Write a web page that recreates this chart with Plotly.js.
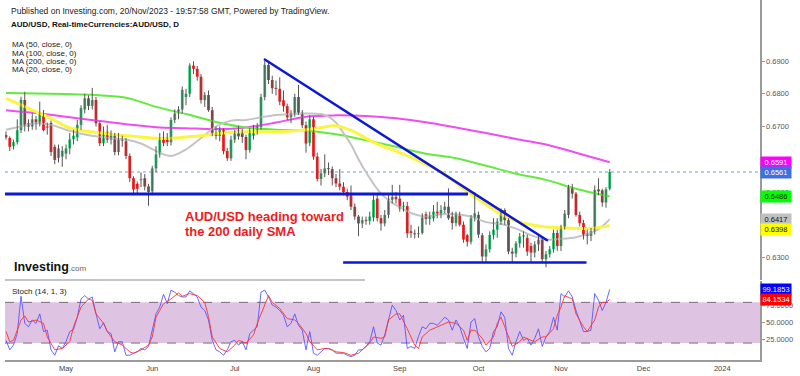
<!DOCTYPE html>
<html><head><meta charset="utf-8">
<script src="https://cdn.plot.ly/plotly-3.0.1.min.js"></script>
<style>html,body{margin:0;padding:0;background:#fff;}#chart{width:800px;height:376px;}</style>
</head><body><div id="chart"></div>
<script>
// ---------------- DATA ----------------
// bar index 0 = Mon 3 Apr 2023 (weekday bars); first drawn bar is index 4 (7 Apr)
const firstBar = 4;
const monthTickIdx = [20, 43, 65, 86, 109, 130, 152, 174, 195];
const monthTickText = ['May', 'Jun', 'Jul', 'Aug', 'Sep', 'Oct', 'Nov', 'Dec', '2024'];
const priceTickVals = [0.63, 0.64, 0.65, 0.66, 0.67, 0.68, 0.69];
const priceTickText = ['0.6300', '', '0.6500', '0.6600', '0.6700', '0.6800', '0.6900'];
const stochTickVals = [25, 50, 75];
const stochTickText = ['25.0000', '50.0000', '75.0000'];

const open = [
0.6674,0.6665,0.6640,0.6652,0.6689,0.6781,0.6710,0.6700,0.6722,0.6712,
0.6741,0.6699,0.6711,0.6638,0.6604,0.6608,0.6617,0.6633,0.6661,0.6667,
0.6705,0.6752,0.6786,0.6763,0.6781,0.6710,0.6649,0.6684,0.6660,0.6672,
0.6622,0.6660,0.6655,0.6610,0.6542,0.6525,0.6536,0.6542,0.6517,0.6502,
0.6572,0.6615,0.6668,0.6668,0.6652,0.6720,0.6740,0.6752,0.6790,0.6800,
0.6886,0.6876,0.6852,0.6781,0.6796,0.6750,0.6679,0.6671,0.6689,0.6625,
0.6603,0.6660,0.6688,0.6680,0.6668,0.6628,0.6672,0.6688,0.6698,0.6790,
0.6888,0.6842,0.6817,0.6815,0.6780,0.6762,0.6728,0.6740,0.6790,0.6742,
0.6704,0.6650,0.6722,0.6608,0.6540,0.6557,0.6572,0.6570,0.6542,0.6526,
0.6516,0.6500,0.6490,0.6455,0.6425,0.6404,0.6414,0.6412,0.6422,0.6480,
0.6420,0.6404,0.6430,0.6476,0.6485,0.6480,0.6455,0.6457,0.6380,0.6372,
0.6371,0.6375,0.6432,0.6418,0.6420,0.6440,0.6435,0.6445,0.6455,0.6425,
0.6405,0.6428,0.6400,0.6368,0.6348,0.6420,0.6430,0.6368,0.6303,0.6325,
0.6369,0.6385,0.6410,0.6445,0.6414,0.6318,0.6312,0.6343,0.6364,0.6360,
0.6335,0.6315,0.6340,0.6355,0.6295,0.6310,0.6325,0.6375,0.6335,0.6392,
0.6430,0.6515,0.6495,0.6430,0.6405,0.6372,0.6366,0.6380,0.6508,0.6505,
0.6468,0.6510];
const high = [
0.6685,0.6670,0.6660,0.6722,0.6791,0.6806,0.6722,0.6740,0.6732,0.6776,
0.6750,0.6712,0.6718,0.6645,0.6645,0.6640,0.6645,0.6680,0.6690,0.6720,
0.6765,0.6800,0.6795,0.6818,0.6790,0.6715,0.6700,0.6705,0.6688,0.6680,
0.6680,0.6672,0.6665,0.6618,0.6548,0.6532,0.6560,0.6555,0.6525,0.6580,
0.6640,0.6680,0.6685,0.6680,0.6728,0.6752,0.6762,0.6822,0.6815,0.6893,
0.6899,0.6885,0.6860,0.6805,0.6810,0.6760,0.6700,0.6700,0.6695,0.6635,
0.6672,0.6690,0.6702,0.6692,0.6675,0.6695,0.6705,0.6710,0.6800,0.6900,
0.6895,0.6855,0.6840,0.6850,0.6810,0.6770,0.6750,0.6800,0.6827,0.6750,
0.6715,0.6735,0.6730,0.6620,0.6570,0.6615,0.6590,0.6578,0.6555,0.6570,
0.6530,0.6510,0.6520,0.6465,0.6430,0.6425,0.6425,0.6440,0.6490,0.6495,
0.6430,0.6445,0.6490,0.6522,0.6500,0.6522,0.6470,0.6470,0.6400,0.6385,
0.6395,0.6435,0.6440,0.6440,0.6460,0.6470,0.6460,0.6470,0.6511,0.6440,
0.6440,0.6440,0.6410,0.6372,0.6430,0.6500,0.6440,0.6375,0.6340,0.6380,
0.6420,0.6420,0.6450,0.6450,0.6420,0.6330,0.6350,0.6375,0.6380,0.6370,
0.6345,0.6350,0.6370,0.6365,0.6320,0.6335,0.6385,0.6385,0.6400,0.6445,
0.6522,0.6525,0.6500,0.6440,0.6415,0.6385,0.6390,0.6520,0.6542,0.6510,
0.6515,0.6570];
const low = [
0.6660,0.6625,0.6630,0.6645,0.6680,0.6685,0.6685,0.6690,0.6690,0.6700,
0.6685,0.6675,0.6610,0.6585,0.6590,0.6577,0.6600,0.6615,0.6645,0.6655,
0.6690,0.6740,0.6750,0.6752,0.6700,0.6640,0.6640,0.6650,0.6645,0.6612,
0.6612,0.6638,0.6600,0.6530,0.6490,0.6492,0.6515,0.6505,0.6458,0.6490,
0.6560,0.6605,0.6640,0.6640,0.6642,0.6710,0.6722,0.6740,0.6765,0.6790,
0.6860,0.6840,0.6770,0.6760,0.6745,0.6670,0.6660,0.6655,0.6615,0.6595,
0.6595,0.6650,0.6660,0.6650,0.6600,0.6620,0.6660,0.6675,0.6690,0.6780,
0.6830,0.6800,0.6795,0.6765,0.6745,0.6720,0.6710,0.6730,0.6735,0.6695,
0.6620,0.6640,0.6598,0.6532,0.6520,0.6545,0.6552,0.6520,0.6515,0.6505,
0.6490,0.6475,0.6445,0.6415,0.6365,0.6390,0.6400,0.6400,0.6410,0.6410,
0.6382,0.6395,0.6420,0.6465,0.6465,0.6440,0.6440,0.6360,0.6360,0.6358,
0.6360,0.6370,0.6400,0.6400,0.6410,0.6420,0.6420,0.6435,0.6415,0.6385,
0.6395,0.6395,0.6345,0.6333,0.6340,0.6410,0.6360,0.6287,0.6285,0.6315,
0.6355,0.6360,0.6400,0.6400,0.6310,0.6285,0.6300,0.6330,0.6330,0.6305,
0.6285,0.6300,0.6320,0.6285,0.6270,0.6300,0.6315,0.6320,0.6320,0.6385,
0.6420,0.6480,0.6425,0.6395,0.6355,0.6340,0.6350,0.6370,0.6490,0.6455,
0.6452,0.6505];
const close = [
0.6667,0.6638,0.6652,0.6689,0.6781,0.6702,0.6700,0.6722,0.6714,0.6741,
0.6689,0.6697,0.6622,0.6598,0.6633,0.6626,0.6633,0.6661,0.6672,0.6705,
0.6756,0.6786,0.6763,0.6781,0.6710,0.6649,0.6684,0.6660,0.6672,0.6622,
0.6662,0.6657,0.6610,0.6542,0.6508,0.6510,0.6537,0.6517,0.6500,0.6572,
0.6615,0.6665,0.6650,0.6652,0.6720,0.6740,0.6752,0.6812,0.6800,0.6886,
0.6876,0.6852,0.6781,0.6796,0.6750,0.6679,0.6671,0.6689,0.6625,0.6603,
0.6660,0.6685,0.6670,0.6668,0.6628,0.6684,0.6690,0.6700,0.6790,0.6888,
0.6842,0.6817,0.6815,0.6776,0.6762,0.6728,0.6740,0.6790,0.6742,0.6704,
0.6648,0.6722,0.6608,0.6540,0.6557,0.6572,0.6570,0.6542,0.6526,0.6516,
0.6500,0.6486,0.6455,0.6425,0.6404,0.6414,0.6412,0.6425,0.6476,0.6420,
0.6404,0.6430,0.6480,0.6485,0.6478,0.6450,0.6457,0.6374,0.6375,0.6371,
0.6373,0.6422,0.6418,0.6425,0.6440,0.6435,0.6445,0.6455,0.6420,0.6405,
0.6430,0.6400,0.6355,0.6348,0.6420,0.6435,0.6370,0.6303,0.6325,0.6369,
0.6385,0.6410,0.6445,0.6414,0.6318,0.6312,0.6343,0.6364,0.6368,0.6318,
0.6315,0.6340,0.6355,0.6295,0.6310,0.6325,0.6375,0.6335,0.6392,0.6434,
0.6516,0.6495,0.6430,0.6405,0.6368,0.6366,0.6380,0.6506,0.6502,0.6468,
0.6508,0.6561];

// moving averages (bar index, value)
const ma20X = [4,8,12,16,20,24,28,32,36,40,44,48,52,56,60,64,68,72,76,80,84,88,90,92,94,96,98,100,102,104,106,108,110,112,116,120,124,128,132,136,140,144,148,152,156,160,163,165];
const ma20Y = [0.6690,0.6700,0.6710,0.6705,0.6690,0.6678,0.6670,0.6664,0.6660,0.6648,0.6625,0.6610,0.6630,0.6665,0.6700,0.6718,0.6720,0.6728,0.6735,0.6738,0.6740,0.6738,0.6730,0.6712,0.6680,0.6645,0.6600,0.6560,0.6525,0.6495,0.6475,0.6460,0.6448,0.6436,0.6425,0.6432,0.6432,0.6425,0.6408,0.6402,0.6388,0.6368,0.6355,0.6357,0.6362,0.6375,0.6395,0.6417];
const ma50X = [4,8,12,16,20,24,28,32,36,40,44,48,52,56,60,64,68,72,76,80,84,88,92,96,100,104,108,112,116,120,124,128,132,136,140,144,148,152,156,160,164,165];
const ma50Y = [0.6786,0.6766,0.6745,0.6725,0.6700,0.6688,0.6682,0.6676,0.6672,0.6668,0.6664,0.6664,0.6668,0.6672,0.6678,0.6682,0.6684,0.6684,0.6684,0.6686,0.6690,0.6697,0.6702,0.6688,0.6664,0.6642,0.6625,0.6606,0.6584,0.6562,0.6528,0.6493,0.6462,0.6432,0.6412,0.6400,0.6393,0.6391,0.6389,0.6389,0.6395,0.6398];
const ma100X = [4,12,20,28,36,44,52,60,68,76,84,92,100,108,116,124,132,140,148,156,165];
const ma100Y = [0.6802,0.6801,0.6799,0.6796,0.6788,0.6760,0.6738,0.6714,0.6697,0.6690,0.6688,0.6676,0.6658,0.6638,0.6617,0.6603,0.6580,0.6556,0.6537,0.6510,0.6486];
const ma200X = [4,12,20,28,36,44,52,60,68,76,84,92,100,108,116,124,132,140,148,156,165];
const ma200Y = [0.6750,0.6741,0.6730,0.6718,0.6707,0.6698,0.6695,0.6692,0.6697,0.6712,0.6730,0.6734,0.6732,0.6725,0.6713,0.6697,0.6680,0.6662,0.6645,0.6620,0.6591];

// drawn lines (bar index, price)
const trendX = [72.8, 148.5], trendY = [0.6906, 0.6351];
const supportX = [3.7, 127.2], supportY = [0.6494, 0.6494];
const floorX = [93.9, 158.8], floorY = [0.6285, 0.6285];

// Stochastic (14,1,3): %K for every bar, %D read at sampled bars
const stochK = [
24,10,17,34,89,49,44,54,49,63,
37,39,10,2,16,12,22,37,40,58,
85,90,85,88,63,41,50,37,34,7,
22,22,2,2,5,7,12,10,15,39,
63,73,92,78,98,95,90,88,88,97,
93,88,73,68,54,24,10,7,2,10,
22,24,17,22,10,34,39,44,95,98,
88,76,73,68,61,44,49,63,46,39,
10,37,5,2,7,12,12,10,5,5,
5,2,0,2,10,10,15,22,44,20,
17,32,54,76,68,54,61,12,15,12,
30,44,41,49,49,46,52,58,54,39,
54,44,27,12,51,56,29,15,7,12,
37,44,66,58,12,2,22,37,24,27,
17,27,41,15,29,37,58,39,93,88,
97,88,68,51,37,37,39,93,83,68,
80,99.1853];
const stochDX = [4,5,6,8,9,10,12,14,15,17,19,21,22,24,26,27,28,30,31,33,35,37,38,40,42,43,44,46,48,50,51,53,55,57,58,59,61,63,65,66,68,70,71,73,74,75,77,79,81,82,84,85,87,89,90,92,94,96,98,99,101,102,104,105,106,108,109,111,113,114,115,117,119,121,122,124,126,127,128,129,131,132,134,135,136,137,139,141,142,144,145,147,148,150,151,152,153,155,156,158,159,161,162,163,164,165];
const stochD = [37,22,24,54,60,51,54,49,29,10,12,22,44,73,85,83,63,49,37,22,17,7,5,10,17,29,58,78,85,94,89,93,90,80,59,29,12,7,17,24,20,32,49,78,90,80,71,56,54,49,34,22,10,12,12,7,6,2,5,10,20,29,27,29,54,63,63,41,17,12,29,39,44,49,51,49,39,24,39,39,27,17,29,49,58,44,15,22,29,24,22,29,29,41,61,73,90,85,63,44,37,54,73,80,80,84.1534];

// ---------------- BUILD ----------------
const FONT = 'Liberation Sans, Arial, sans-serif';
const GREEN = '#1fc26a', RED = '#f51b1b', WICK = '#555555', BLUE = '#0c17d8';
const barX = open.map((_, k) => firstBar + k);

const wickX = [], wickY = [];
barX.forEach((x, k) => { wickX.push(x, x, null); wickY.push(low[k], high[k], null); });
const bodyBase = open.map((o, k) => Math.min(o, close[k]));
const bodyH = open.map((o, k) => Math.max(Math.abs(close[k] - o), 0.0003));
const bodyCol = open.map((o, k) => close[k] > o ? GREEN : (close[k] < o ? RED : '#222'));

const last = a => a[a.length - 1];

const traces = [
  {x: ma200X, y: ma200Y, type: 'scatter', mode: 'lines', line: {color: '#ee4df0', width: 2, shape: 'spline', smoothing: 1}, yaxis: 'y'},
  {x: ma100X, y: ma100Y, type: 'scatter', mode: 'lines', line: {color: '#63ea3f', width: 2, shape: 'spline', smoothing: 1}, yaxis: 'y'},
  {x: ma20X, y: ma20Y, type: 'scatter', mode: 'lines', line: {color: '#c4c4c4', width: 2, shape: 'spline', smoothing: 1}, yaxis: 'y'},
  {x: ma50X, y: ma50Y, type: 'scatter', mode: 'lines', line: {color: '#fbf542', width: 3, shape: 'spline', smoothing: 1}, yaxis: 'y'},
  {x: wickX, y: wickY, type: 'scatter', mode: 'lines', line: {color: WICK, width: 1}, yaxis: 'y'},
  {x: barX, y: bodyH, base: bodyBase, type: 'bar', width: 0.74, marker: {color: bodyCol, line: {width: 0}}, yaxis: 'y'},
  {x: trendX, y: trendY, type: 'scatter', mode: 'lines', line: {color: BLUE, width: 2.5}, yaxis: 'y'},
  {x: supportX, y: supportY, type: 'scatter', mode: 'lines', line: {color: BLUE, width: 3}, yaxis: 'y'},
  {x: floorX, y: floorY, type: 'scatter', mode: 'lines', line: {color: BLUE, width: 2.5}, yaxis: 'y'},
  {x: barX, y: stochK, type: 'scatter', mode: 'lines', line: {color: 'rgba(80,80,255,0.85)', width: 1}, yaxis: 'y2'},
  {x: stochDX, y: stochD, type: 'scatter', mode: 'lines', line: {color: 'rgba(255,50,50,0.9)', width: 1}, yaxis: 'y2'}
];

// pixel helpers for layout placement (plot area: x 5..760, y 0..360)
const PX = x => (x - 5) / 755, PY = y => (360 - y) / 360;

function txt(x, y, text, size, color, extra) {
  return Object.assign({xref: 'paper', yref: 'paper', x: PX(x), y: PY(y), xanchor: 'left', yanchor: 'middle',
    text: text, showarrow: false, font: {family: FONT, size: size, color: color}}, extra || {});
}
function tag(val, axis, bg, fg, digits, yshift) {
  return {xref: 'paper', yref: axis, x: 1, y: val, xanchor: 'left', yanchor: 'middle', xshift: 0, yshift: yshift || 0,
    text: val.toFixed(digits), showarrow: false, bgcolor: bg, borderpad: 1, width: 28,
    font: {family: FONT, size: 7.5, color: fg}};
}

const annotations = [
  txt(9, 11, 'Published on Investing.com, 20/Nov/2023 - 19:57:58 GMT, Powered by TradingView.', 8.5, '#222'),
  txt(9, 25, '<b>AUD/USD, Real-timeCurrencies:AUD/USD, D</b>', 8, '#111'),
  txt(10, 44.5, 'MA (50, close, 0)', 8, '#222'),
  txt(10, 53, 'MA (100, close, 0)', 8, '#222'),
  txt(10, 61.5, 'MA (200, close, 0)', 8, '#222'),
  txt(10, 70, 'MA (20, close, 0)', 8, '#222'),
  txt(12, 267, '<b>Investing</b><span style="font-size:8px;color:#666">.com</span>', 12.5, '#111'),
  txt(10, 291, 'Stoch (14, 1, 3)', 8, '#222'),
  txt(183, 216.5, '<b>AUD/USD heading toward</b>', 13, '#ee1c1c'),
  txt(183, 232, '<b>the 200 daily SMA</b>', 13, '#ee1c1c'),
  tag(last(ma200Y), 'y', '#ff00ff', '#ffffff', 4),
  tag(last(close), 'y', '#3e6fe0', '#ffffff', 4),
  tag(last(ma100Y), 'y', '#00ff00', '#222222', 4),
  tag(last(ma20Y), 'y', '#c0c0c0', '#111111', 4),
  tag(last(ma50Y), 'y', '#ffff00', '#111111', 4, -4),
  tag(last(stochK), 'y2', '#0000ff', '#ffffff', 4),
  tag(last(stochD), 'y2', '#ff0000', '#ffffff', 4)
];

const shapes = [
  {type: 'rect', xref: 'paper', yref: 'y2', x0: 0, x1: 1, y0: 20, y1: 80, fillcolor: '#dfc3e3', line: {width: 0}, layer: 'below'},
  {type: 'line', xref: 'paper', yref: 'y2', x0: 0, x1: 1, y0: 80, y1: 80, line: {color: '#7a6a7e', width: 1, dash: 'dash'}, layer: 'below'},
  {type: 'line', xref: 'paper', yref: 'y2', x0: 0, x1: 1, y0: 20, y1: 20, line: {color: '#7a6a7e', width: 1, dash: 'dash'}, layer: 'below'},
  {type: 'line', xref: 'paper', yref: 'paper', x0: 0, x1: PX(365), y0: PY(280), y1: PY(280), line: {color: '#b0b0b0', width: 1.5}},
  {type: 'line', xref: 'paper', yref: 'y', x0: 0, x1: 1, y0: last(close), y1: last(close), line: {color: '#a4b8ea', width: 1.5, dash: 'dot'}, layer: 'below'}
];

const axisCommon = {side: 'right', anchor: 'x', showline: true, linecolor: '#9a9a9a', linewidth: 1.5, ticks: 'outside', ticklen: 3,
  tickcolor: '#9a9a9a', showgrid: false, zeroline: false, tickfont: {family: FONT, size: 7.5, color: '#555'}, fixedrange: true};

const layout = {
  width: 800, height: 376,
  margin: {l: 5, r: 40, t: 0, b: 16},
  paper_bgcolor: '#ffffff', plot_bgcolor: '#ffffff',
  showlegend: false, barmode: 'overlay', hovermode: false,
  font: {family: FONT},
  xaxis: {range: [3.733, 205.07], anchor: 'y2', tickmode: 'array', tickvals: monthTickIdx, ticktext: monthTickText,
    showline: true, linecolor: '#9a9a9a', linewidth: 1.5, ticks: '', showgrid: false, zeroline: false,
    tickfont: {family: FONT, size: 7.5, color: '#444'}, fixedrange: true},
  yaxis: Object.assign({domain: [80/360, 1], range: [0.62313, 0.708626], tickmode: 'array',
    tickvals: priceTickVals, ticktext: priceTickText}, axisCommon),
  yaxis2: Object.assign({domain: [0, 79/360], range: [-5, 111.5], tickmode: 'array', tickvals: stochTickVals, ticktext: stochTickText}, axisCommon),
  annotations: annotations,
  shapes: shapes
};

Plotly.newPlot('chart', traces, layout, {staticPlot: true, displayModeBar: false});
</script></body></html>
